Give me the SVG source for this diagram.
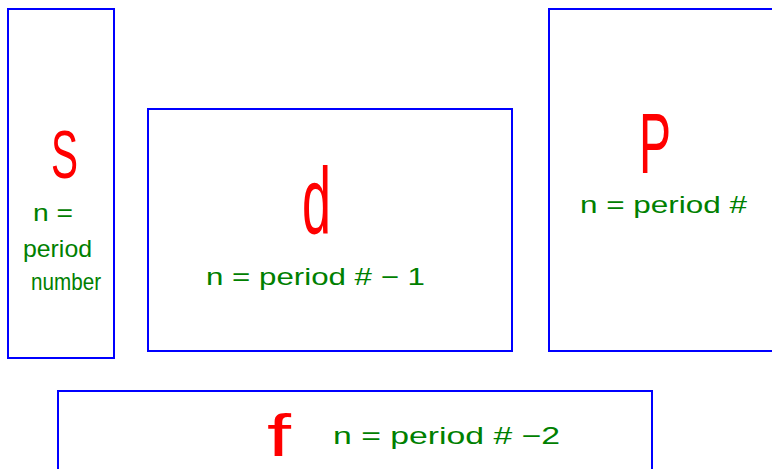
<svg xmlns="http://www.w3.org/2000/svg" width="772" height="469" viewBox="0 0 772 469">
<style>
.box{fill:none;stroke:#0000ff;stroke-width:2}
.big{fill:#ff0000;font-family:"Liberation Sans",Arial,sans-serif}
.lbl{fill:#008000;font-family:"Liberation Sans",Arial,sans-serif;font-size:24px}
</style>
<rect width="772" height="469" fill="#ffffff"/>
<g id="s-block">
<rect class="box" x="8" y="9" width="106" height="349"/>
<text class="big" x="51" y="178" font-size="68" textLength="27" lengthAdjust="spacingAndGlyphs">S</text>
<text class="lbl" x="33" y="221" textLength="40" lengthAdjust="spacingAndGlyphs">n =</text>
<text class="lbl" x="23" y="257" textLength="69" lengthAdjust="spacingAndGlyphs">period</text>
<text class="lbl" x="31" y="290" font-size="20" textLength="70" lengthAdjust="spacingAndGlyphs">number</text>
</g>
<g id="d-block">
<rect class="box" x="148" y="109" width="364" height="242"/>
<text class="big" x="302" y="234" font-size="94" textLength="29" lengthAdjust="spacingAndGlyphs">d</text>
<text class="lbl" x="206" y="285" font-size="28" textLength="219" lengthAdjust="spacingAndGlyphs">n = period # − 1</text>
</g>
<g id="p-block">
<rect class="box" x="549" y="9" width="230" height="342"/>
<text class="big" x="639" y="173" font-size="85" textLength="32" lengthAdjust="spacingAndGlyphs">P</text>
<text class="lbl" x="580" y="213" font-size="26" textLength="167" lengthAdjust="spacingAndGlyphs">n = period #</text>
</g>
<g id="f-block">
<rect class="box" x="58" y="391" width="594" height="90"/>
<text class="big" x="267" y="456" font-size="60" textLength="24" lengthAdjust="spacingAndGlyphs">f</text>
<text class="lbl" x="333" y="444" font-size="27" textLength="227" lengthAdjust="spacingAndGlyphs">n = period # −2</text>
</g>
<g id="connectors"/>
</svg>
